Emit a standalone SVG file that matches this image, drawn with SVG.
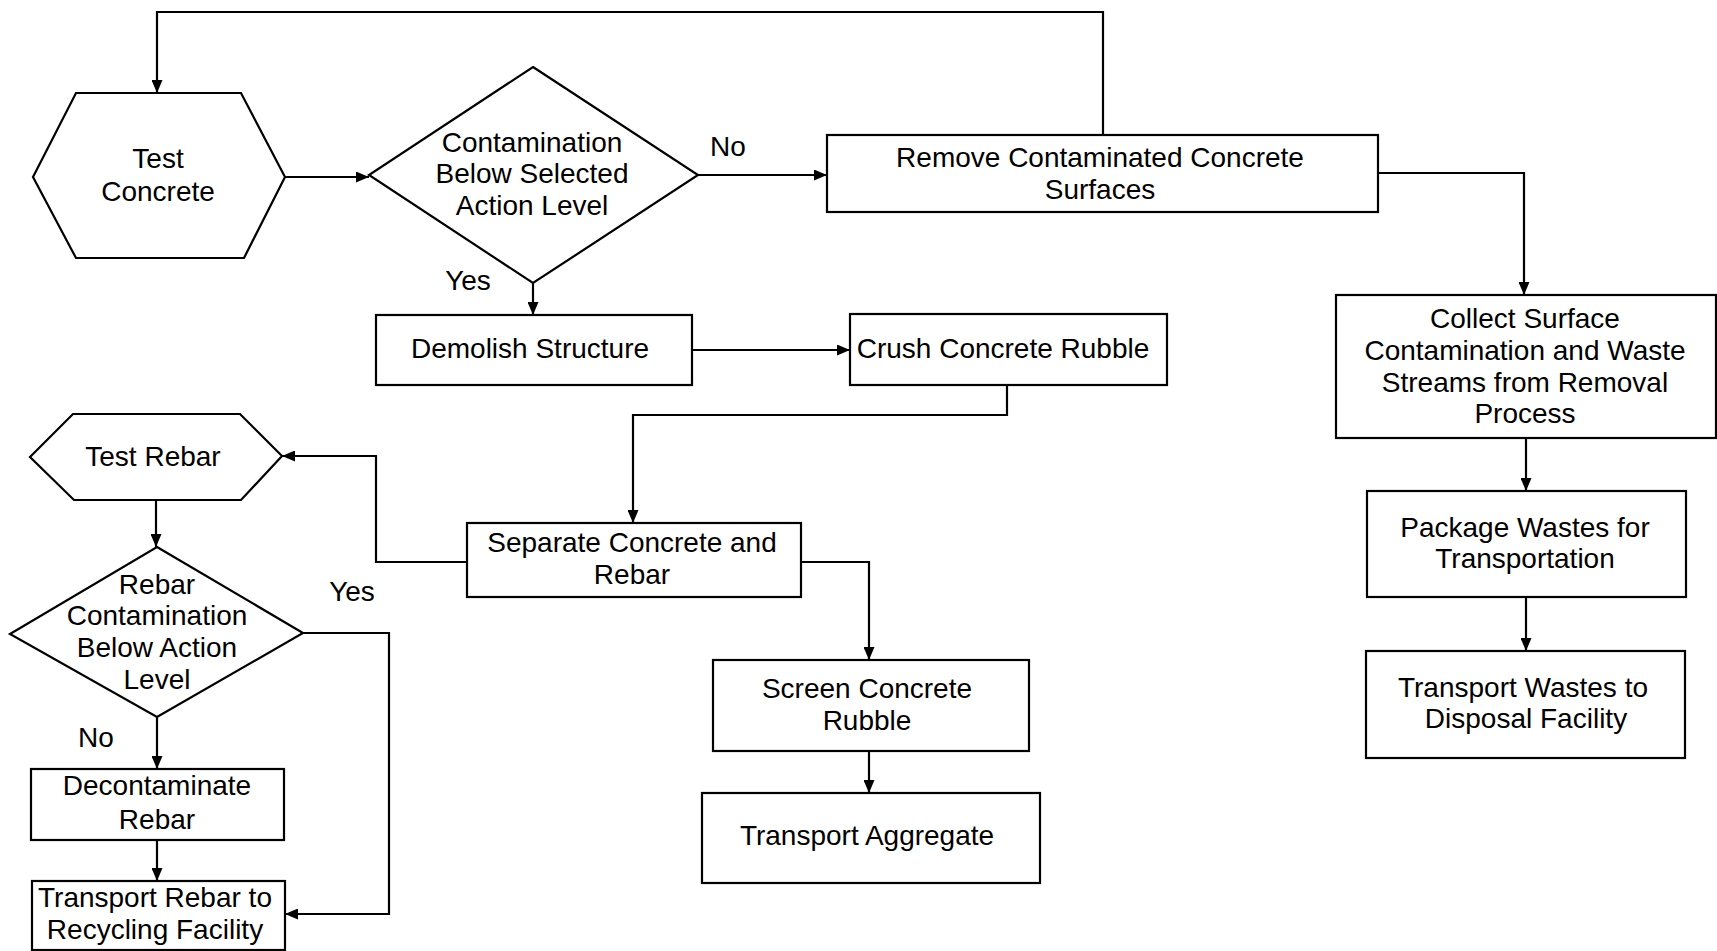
<svg xmlns="http://www.w3.org/2000/svg" width="1717" height="951" viewBox="0 0 1717 951">
<style>
.s{fill:#fff;stroke:#000;stroke-width:2.2}
.c{fill:none;stroke:#000;stroke-width:2.2}
text{font-family:"Liberation Sans",Arial,sans-serif;font-size:28px;fill:#000;text-anchor:middle}
</style>
<defs>
<marker id="ah" viewBox="0 0 13 11" refX="13" refY="5.5" markerWidth="13" markerHeight="11" markerUnits="userSpaceOnUse" orient="auto">
<path d="M0,0 L13,5.5 L0,11 Z" fill="#000"/>
</marker>
</defs>
<rect width="1717" height="951" fill="#fff"/>
<g id="connectors">
<path class="c" d="M1103,135 V12 H157 V93" marker-end="url(#ah)"/>
<path class="c" d="M285,177 H369" marker-end="url(#ah)"/>
<path class="c" d="M698,175 H827" marker-end="url(#ah)"/>
<path class="c" d="M533,283 V315" marker-end="url(#ah)"/>
<path class="c" d="M692,350 H850" marker-end="url(#ah)"/>
<path class="c" d="M1378,173 H1524 V295" marker-end="url(#ah)"/>
<path class="c" d="M1526,438 V491" marker-end="url(#ah)"/>
<path class="c" d="M1526,597 V651" marker-end="url(#ah)"/>
<path class="c" d="M1007,385 V415 H633 V523" marker-end="url(#ah)"/>
<path class="c" d="M467,562 H376 V456 H282" marker-end="url(#ah)"/>
<path class="c" d="M801,562 H869 V660" marker-end="url(#ah)"/>
<path class="c" d="M869,751 V793" marker-end="url(#ah)"/>
<path class="c" d="M156,500 V547" marker-end="url(#ah)"/>
<path class="c" d="M157,717 V769" marker-end="url(#ah)"/>
<path class="c" d="M157,840 V881" marker-end="url(#ah)"/>
<path class="c" d="M303,633 H389 V914 H285" marker-end="url(#ah)"/>
</g>
<g id="labels">
<text x="728" y="156">No</text>
<text x="468" y="290">Yes</text>
<text x="352" y="601">Yes</text>
<text x="96" y="747">No</text>
</g>
<g id="test-concrete">
<polygon class="s" points="33,177 76,93 241,93 285,177 244,258 76,258"/>
<text x="158" y="168">Test</text>
<text x="158" y="201">Concrete</text>
</g>
<g id="decision-contamination">
<polygon class="s" points="533,67 698,175 533,283 369,175"/>
<text x="532" y="152">Contamination</text>
<text x="532" y="183">Below Selected</text>
<text x="532" y="215">Action Level</text>
</g>
<g id="remove-surfaces">
<rect class="s" x="827" y="135" width="551" height="77"/>
<text x="1100" y="167">Remove Contaminated Concrete</text>
<text x="1100" y="199">Surfaces</text>
</g>
<g id="demolish">
<rect class="s" x="376" y="315" width="316" height="70"/>
<text x="530" y="358">Demolish Structure</text>
</g>
<g id="crush">
<rect class="s" x="850" y="314" width="317" height="71"/>
<text x="1003" y="358">Crush Concrete Rubble</text>
</g>
<g id="collect">
<rect class="s" x="1336" y="295" width="380" height="143"/>
<text x="1525" y="328">Collect Surface</text>
<text x="1525" y="360">Contamination and Waste</text>
<text x="1525" y="392">Streams from Removal</text>
<text x="1525" y="423">Process</text>
</g>
<g id="package">
<rect class="s" x="1367" y="491" width="319" height="106"/>
<text x="1525" y="537">Package Wastes for</text>
<text x="1525" y="568">Transportation</text>
</g>
<g id="transport-wastes">
<rect class="s" x="1366" y="651" width="319" height="107"/>
<text x="1523" y="697">Transport Wastes to</text>
<text x="1526" y="728">Disposal Facility</text>
</g>
<g id="separate">
<rect class="s" x="467" y="523" width="334" height="74"/>
<text x="632" y="552">Separate Concrete and</text>
<text x="632" y="584">Rebar</text>
</g>
<g id="screen">
<rect class="s" x="713" y="660" width="316" height="91"/>
<text x="867" y="698">Screen Concrete</text>
<text x="867" y="730">Rubble</text>
</g>
<g id="transport-aggregate">
<rect class="s" x="702" y="793" width="338" height="90"/>
<text x="867" y="845">Transport Aggregate</text>
</g>
<g id="test-rebar">
<polygon class="s" points="30,457 73,414 240,414 282,456 241,500 74,500"/>
<text x="153" y="466">Test Rebar</text>
</g>
<g id="decision-rebar">
<polygon class="s" points="157,547 303,633 157,717 10,634"/>
<text x="157" y="594">Rebar</text>
<text x="157" y="625">Contamination</text>
<text x="157" y="657">Below Action</text>
<text x="157" y="689">Level</text>
</g>
<g id="decontaminate">
<rect class="s" x="31" y="769" width="253" height="71"/>
<text x="157" y="795">Decontaminate</text>
<text x="157" y="829">Rebar</text>
</g>
<g id="transport-rebar">
<rect class="s" x="32" y="881" width="253" height="69"/>
<text x="155" y="907">Transport Rebar to</text>
<text x="155" y="939">Recycling Facility</text>
</g>
</svg>
